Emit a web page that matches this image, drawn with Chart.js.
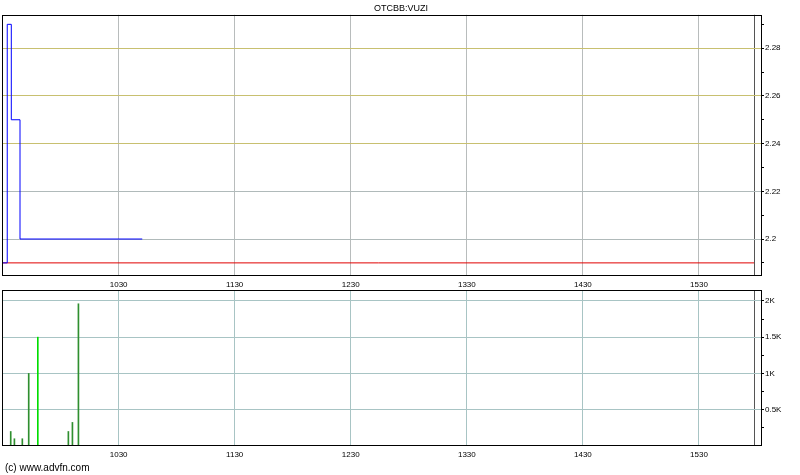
<!DOCTYPE html>
<html>
<head>
<meta charset="utf-8">
<script src="https://cdn.jsdelivr.net/npm/chart.js@4"></script>
<style>
  html, body { margin: 0; padding: 0; background: #fff; }
  #wrap { position: relative; width: 800px; height: 475px; overflow: hidden; }
  #price-box { position: absolute; left: 0; top: 0; width: 800px; height: 290px; }
  #volume-box { position: absolute; left: 0; top: 282px; width: 800px; height: 193px; }
  #copy {
    position: absolute; left: 5px; top: 462px;
    font: 10px "Liberation Sans", Arial, sans-serif; color: #000;
  }
</style>
</head>
<body>
<div id="wrap">
  <div id="price-box"><canvas id="price-chart"></canvas></div>
  <div id="volume-box"><canvas id="volume-chart"></canvas></div>
  <div id="copy">(c) www.advfn.com</div>
</div>
<script>
// Minutes after 09:30 on the x axis
const timeTicks = [60, 120, 180, 240, 300, 360];
const timeLabels = ['1030', '1130', '1230', '1330', '1430', '1530'];
const sessionEnd = 388.5;

// Price (step line) and previous close
const priceTimes = [0, 2.4, 4.5, 9, 72.2];
const priceValues = [2.19, 2.29, 2.25, 2.20, 2.20];
const prevClose = 2.19;
const priceTicks = [2.19, 2.2, 2.21, 2.22, 2.23, 2.24, 2.25, 2.26, 2.27, 2.28, 2.29];
const priceLabelTicks = [2.2, 2.22, 2.24, 2.26, 2.28];
const upperGridTicks = [2.24, 2.26, 2.28];

// Volume bars
const volumeTimes = [4.2, 6.1, 10.2, 13.5, 18.2, 34.0, 36.1, 39.2];
const volumeValues = [200, 100, 100, 1000, 1500, 200, 325, 1960];
const volumeTicks = [250, 500, 750, 1000, 1250, 1500, 1750, 2000];

const FONT = '"Liberation Sans", Arial, sans-serif';
const X_MIN = -0.31;
const X_MAX = 392.6;
const Y_MIN = 2.1845;
const Y_MAX = 2.294;

/**
 * Draw a black frame round the plot area
 */
const frame = {
  id: 'frame',
  afterDraw(chart) {
    const a = chart.chartArea;
    const ctx = chart.ctx;
    ctx.save();
    ctx.strokeStyle = '#000';
    ctx.lineWidth = 1;
    ctx.strokeRect(Math.round(a.left) + 0.5, Math.round(a.top) + 0.5,
      Math.round(a.right - a.left) - 1, Math.round(a.bottom - a.top) - 1);
    ctx.restore();
  }
};

// Shared time axis
function timeAxis(gridColor) {
  const ticks = timeTicks.concat([sessionEnd]);
  return {
    type: 'linear',
    min: X_MIN,
    max: X_MAX,
    offset: false,
    afterBuildTicks: (scale) => {
      scale.ticks = ticks.map(v => ({ value: v }));
    },
    afterFit: (scale) => { scale.height = 14; },
    border: { display: false },
    grid: {
      offset: false,
      color: ticks.map(v => v === sessionEnd ? '#555' : gridColor),
      tickLength: 0
    },
    ticks: {
      autoSkip: false,
      maxRotation: 0,
      padding: 4,
      color: '#000',
      font: { family: FONT, size: 8 },
      callback: (value) => {
        const i = timeTicks.indexOf(value);
        return i >= 0 ? timeLabels[i] : '';
      }
    }
  };
}

const hasLabel = (v) => priceLabelTicks.some(t => Math.abs(t - v) < 1e-6);
const isUpper = (v) => upperGridTicks.some(t => Math.abs(t - v) < 1e-6);

new Chart(document.getElementById('price-chart').getContext('2d'), {
  type: 'line',
  data: {
    datasets: [{
      label: 'Price',
      data: priceTimes.map((t, i) => ({ x: t, y: priceValues[i] })),
      borderColor: '#0000ff',
      borderWidth: 1,
      pointRadius: 0,
      stepped: true,
      fill: false
    }, {
      label: 'Previous close',
      data: [{ x: 0, y: prevClose }, { x: sessionEnd, y: prevClose }],
      borderColor: '#e00000',
      borderWidth: 1,
      pointRadius: 0,
      fill: false
    }]
  },
  options: {
    responsive: true,
    maintainAspectRatio: false,
    animation: false,
    layout: { padding: { left: 2, right: 0, top: 0, bottom: 0 } },
    plugins: {
      legend: { display: false },
      tooltip: { enabled: false },
      title: {
        display: true,
        text: 'OTCBB:VUZI',
        color: '#000',
        font: { family: FONT, size: 9, weight: 'normal' },
        padding: { top: 3, bottom: 1 }
      }
    },
    scales: {
      x: timeAxis('#b8bcbc'),
      y: {
        position: 'right',
        min: Y_MIN,
        max: Y_MAX,
        afterBuildTicks: (scale) => {
          scale.ticks = priceTicks.map(v => ({ value: v }));
        },
        afterFit: (scale) => { scale.width = 38; },
        border: { display: false },
        grid: {
          color: (ctx) => {
            const v = ctx.tick ? ctx.tick.value : NaN;
            if (!hasLabel(v) || isUpper(v)) return 'rgba(0,0,0,0)';
            return '#b0baba';
          },
          tickColor: '#000',
          tickLength: 2
        },
        ticks: {
          autoSkip: false,
          padding: 1,
          color: '#000',
          font: { family: FONT, size: 8 },
          callback: (value) => hasLabel(value) ? String(+value.toFixed(2)) : ''
        }
      },
      // overlay axis for the khaki upper grid lines
      yUpper: {
        position: 'right',
        min: Y_MIN,
        max: Y_MAX,
        afterBuildTicks: (scale) => {
          scale.ticks = upperGridTicks.map(v => ({ value: v }));
        },
        afterFit: (scale) => { scale.width = 0; },
        border: { display: false },
        grid: { color: '#c8c070', drawTicks: false },
        ticks: { display: false }
      }
    }
  },
  plugins: [frame]
});

const formatK = (v) => String(v / 1000) + 'K';
const isMajorVolume = (v) => v % 500 === 0 && v > 0;

new Chart(document.getElementById('volume-chart').getContext('2d'), {
  type: 'bar',
  data: {
    datasets: [{
      label: 'Volume',
      data: volumeTimes.map((t, i) => ({ x: t, y: volumeValues[i] })),
      backgroundColor: volumeValues.map(v => v === 1500 ? '#00dd00' : '#2f8f2f'),
      borderWidth: 0,
      barThickness: 1
    }]
  },
  options: {
    responsive: true,
    maintainAspectRatio: false,
    animation: false,
    layout: { padding: { left: 2, right: 0, top: 8, bottom: 15 } },
    plugins: {
      legend: { display: false },
      tooltip: { enabled: false }
    },
    scales: {
      x: timeAxis('#a8c4c4'),
      y: {
        position: 'right',
        min: 0,
        max: 2150,
        afterBuildTicks: (scale) => {
          scale.ticks = volumeTicks.map(v => ({ value: v }));
        },
        afterFit: (scale) => { scale.width = 38; },
        border: { display: false },
        grid: {
          color: volumeTicks.map(v => isMajorVolume(v) ? '#a8c4c4' : 'rgba(0,0,0,0)'),
          tickColor: '#000',
          tickLength: 2
        },
        ticks: {
          autoSkip: false,
          padding: 1,
          color: '#000',
          font: { family: FONT, size: 8 },
          callback: (value) => isMajorVolume(value) ? formatK(value) : ''
        }
      }
    }
  },
  plugins: [frame]
});
</script>
</body>
</html>
